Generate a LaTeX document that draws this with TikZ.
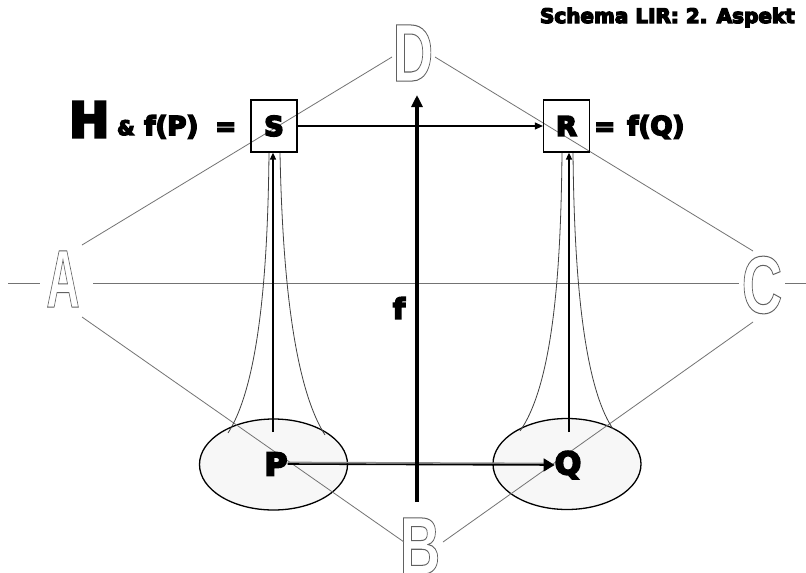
\documentclass[tikz,border=0pt]{standalone}
\usepackage{fontspec}
\setmainfont{DejaVu Sans}
\newfontfamily\outlfont{Liberation Sans}
\usetikzlibrary{arrows.meta,shapes.geometric}
\newcommand\hollowglyph[2]{\scalebox{#1}[2.04]{\special{pdf:literal direct 1 Tr 0.5 w}#2\special{pdf:literal direct 0 Tr}}}
\newcommand\heavytext[2]{\special{pdf:literal direct 2 Tr #1 w}#2\special{pdf:literal direct 0 Tr}}
\begin{document}
\begin{tikzpicture}[x=1pt,y=-1pt,
  thinline/.style={draw=black!55, line width=0.8pt},
  funnel/.style={draw=black!75, line width=0.8pt},
  hollowlet/.style={inner sep=0pt, text=black!62, font=\outlfont\bfseries\fontsize{40}{40}\selectfont},
  boxnode/.style={draw, line width=1.2pt, minimum width=46pt, minimum height=52pt, inner sep=0pt, font=\bfseries\fontsize{27}{27}\selectfont},
  ell/.style={ellipse, draw, line width=1.3pt, fill=black!3, minimum width=148pt, minimum height=91pt, inner sep=0pt},
  letter/.style={inner sep=0pt, font=\bfseries\fontsize{31}{31}\selectfont},
  heavy/.style={inner sep=0pt, font=\bfseries\fontsize{#1}{#1}\selectfont}
]
\useasboundingbox (0,0) rectangle (806,573);
\fill[white] (0,0) rectangle (806,573);

% title
\node[heavy=20, anchor=base east] (title) at (795,23) {\heavytext{1.3}{Schema LIR: 2. Aspekt}};

% ellipses
\node[ell] (Pell) at (273.5,464.5) {};
\node[ell] (Qell) at (567,464) {};

% hollow letters
\node[hollowlet] (D) at (413,53) {\hollowglyph{1.4}{D}};
\node[hollowlet] (A) at (63,279) {\hollowglyph{1.15}{A}};
\node[hollowlet] (C) at (762,285) {\hollowglyph{1.4}{C}};
\node[hollowlet] (B) at (420,546) {\hollowglyph{1.4}{B}};

% diamond and horizontal lines
\coordinate (ad1) at (82,245); \coordinate (ad2) at (392,57);
\coordinate (dc1) at (435,57); \coordinate (dc2) at (753,251);
\coordinate (ab1) at (82,317); \coordinate (ab2) at (404,542);
\coordinate (bc1) at (443,542); \coordinate (bc2) at (753,322);
\coordinate (h1) at (8,283); \coordinate (h2) at (40,283);
\coordinate (h3) at (93,283); \coordinate (h4) at (739,283);
\coordinate (h5) at (785,283); \coordinate (h6) at (806,283);
\draw[thinline] (ad1) -- (ad2);
\draw[thinline] (dc1) -- (dc2);
\draw[thinline] (ab1) -- (ab2);
\draw[thinline] (bc1) -- (bc2);
\draw[thinline] (h1) -- (h2);
\draw[thinline] (h3) -- (h4);
\draw[thinline] (h5) -- (h6);

% boxes
\node[boxnode] (S) at (274,126) {\heavytext{1.8}{S}};
\node[boxnode] (R) at (566.5,126) {\heavytext{1.8}{R}};

% left labels
\node[heavy=48, anchor=base west] (H) at (69,137) {\heavytext{3}{H}};
\node[heavy=20, anchor=base west] (amp) at (117,135) {\heavytext{1.4}{\&}};
\node[heavy=26, anchor=base west] (fP) at (144,135) {\heavytext{1.7}{f(P)}};
\node[heavy=25, anchor=base west] (eqP) at (215,135) {\heavytext{1.7}{=}};
\node[heavy=25, anchor=base west] (eqQ) at (594,135) {\heavytext{1.7}{=}};
\node[heavy=26, anchor=base west] (fQ) at (627,135) {\heavytext{1.7}{f(Q)}};

% funnels
\draw[funnel] (228,433) .. controls (262,380) and (268,250) .. (269,153);
\draw[funnel] (325,435) .. controls (290,380) and (282,250) .. (280,153);
\draw[funnel] (520,431) .. controls (556,380) and (561,250) .. (562,153);
\draw[funnel] (613,429) .. controls (580,380) and (574,250) .. (573,153);

% P, Q letters
\node[letter] (P) at (276,464) {\heavytext{2}{P}};
\node[letter] (Q) at (568,465) {\heavytext{2}{Q}};

% vertical arrows
\coordinate (pbot) at (273,432);
\coordinate (qbot) at (569,432);
\draw[line width=1.5pt, -{Triangle[length=7pt,width=6pt]}] (pbot) -- (pbot |- S.south);
\draw[line width=1.5pt, -{Triangle[length=7pt,width=6pt]}] (qbot) -- (qbot |- R.south);

% S -> R
\draw[line width=1.1pt, -{Triangle[length=8pt,width=7pt]}] (S.east) -- (R.west);

% P -> Q
\draw[line width=1.5pt, black!45] ([yshift=1.6pt]P.east) -- ([yshift=1.6pt,xshift=-10pt]Q.west);
\draw[line width=1.6pt, -{Triangle[length=11pt,width=13pt]}] (P.east) -- (Q.west);

% f arrow
\coordinate (fbot) at (417,502);
\coordinate (ftop) at (417,95);
\draw[line width=3.3pt, -{Triangle[length=12pt,width=11pt]}] (fbot) -- (ftop);
\node[heavy=28] (flabel) at (399,308) {\heavytext{1.8}{f}};
\end{tikzpicture}
\end{document}
